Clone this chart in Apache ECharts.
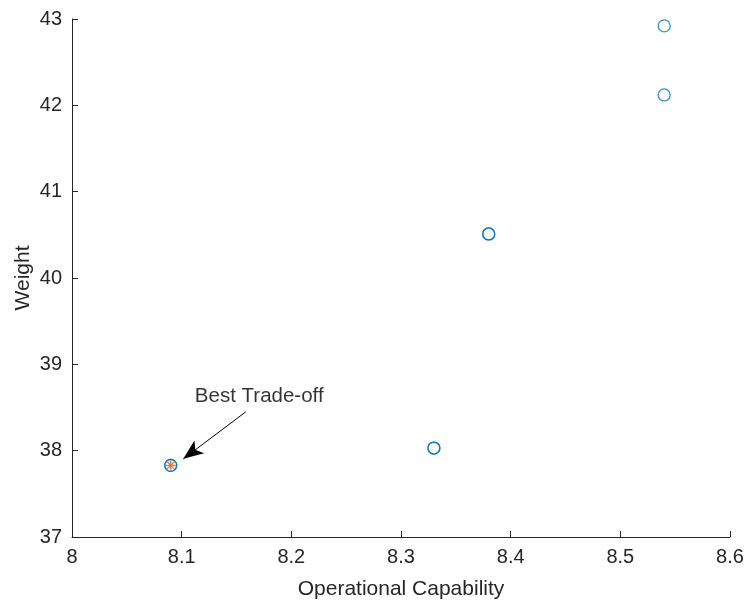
<!DOCTYPE html>
<html>
<head>
<meta charset="utf-8">
<script src="https://cdn.jsdelivr.net/npm/echarts@6/dist/echarts.min.js"></script>
<style>
  html, body { margin: 0; padding: 0; background: #fff; }
  #chart { width: 747px; height: 603px; }
</style>
</head>
<body>
<div id="chart"></div>
<script>
// Candidate designs: operational capability vs. weight (duplicates overlap)
const capability = [8.09, 8.09, 8.33, 8.33, 8.38, 8.38, 8.54, 8.54];
const weight     = [37.83, 37.83, 38.03, 38.03, 40.51, 40.51, 42.12, 42.92];

// Selected design
const bestCapability = [8.09];
const bestWeight = [37.83];

// Annotation: text anchor and arrow from tail to head (data units)
const noteText = 'Best Trade-off';
const notePos = [8.112, 38.63];
const arrowTail = [8.1585, 38.45];
const arrowHead = [8.1015, 37.905];

const xTicks = { min: 8, max: 8.6, interval: 0.1 };
const yTicks = { min: 37, max: 43, interval: 1 };

const font = 'Liberation Sans, Arial, Helvetica, sans-serif';
const axisColor = '#262626';
const blue = '#0072BD';
const orange = '#D95319';

// Eight-armed asterisk
const asterisk = 'path://M0,-10L0,10M-10,0L10,0M-7.07,-7.07L7.07,7.07M-7.07,7.07L7.07,-7.07';

const chart = echarts.init(document.getElementById('chart'), null, { renderer: 'canvas' });

chart.setOption({
  animation: false,
  backgroundColor: '#ffffff',
  grid: {
    left: 72, right: 17, top: 19, bottom: 66,
    containLabel: false,
    outerBoundsMode: 'none'
  },
  xAxis: {
    type: 'value',
    min: xTicks.min, max: xTicks.max, interval: xTicks.interval,
    name: 'Operational Capability',
    nameLocation: 'middle',
    nameGap: 42,
    nameMoveOverlap: false,
    nameTextStyle: { color: axisColor, fontFamily: font, fontSize: 21 },
    axisLine: { show: true, lineStyle: { color: axisColor, width: 1 } },
    axisTick: { show: true, inside: true, length: 6, lineStyle: { color: axisColor } },
    axisLabel: {
      color: axisColor, fontFamily: font, fontSize: 20, margin: 10,
      formatter: v => String(+v.toFixed(1))
    },
    splitLine: { show: false }
  },
  yAxis: {
    type: 'value',
    min: yTicks.min, max: yTicks.max, interval: yTicks.interval,
    name: 'Weight',
    nameLocation: 'middle',
    nameGap: 38,
    nameRotate: 90,
    nameMoveOverlap: false,
    nameTextStyle: { color: axisColor, fontFamily: font, fontSize: 21 },
    axisLine: { show: true, lineStyle: { color: axisColor, width: 1 } },
    axisTick: { show: true, inside: true, length: 6, lineStyle: { color: axisColor } },
    axisLabel: { color: axisColor, fontFamily: font, fontSize: 20, margin: 10 },
    splitLine: { show: false }
  },
  series: [
    {
      name: 'Designs',
      type: 'scatter',
      symbol: 'circle',
      symbolSize: 12,
      itemStyle: { color: 'rgba(0,0,0,0)', borderColor: blue, borderWidth: 1.3 },
      data: capability.map((c, i) => [c, weight[i]]),
      z: 2
    },
    {
      name: 'Best',
      type: 'scatter',
      symbol: asterisk,
      symbolSize: 10,
      itemStyle: { color: 'rgba(0,0,0,0)', borderColor: orange, borderWidth: 1.3 },
      data: bestCapability.map((c, i) => [c, bestWeight[i]]),
      z: 3,
      markLine: {
        silent: true,
        symbol: ['none', 'arrow'],
        symbolSize: [12, 20],
        lineStyle: { color: '#000', width: 1, type: 'solid' },
        label: { show: false },
        data: [[{ coord: arrowTail }, { coord: arrowHead }]]
      }
    },
    {
      name: 'Note',
      type: 'scatter',
      symbolSize: 0,
      silent: true,
      data: [notePos],
      label: {
        show: true,
        position: 'right',
        distance: 0,
        formatter: noteText,
        color: '#000',
        fontFamily: font,
        fontSize: 20.5
      }
    }
  ]
});
</script>
</body>
</html>
